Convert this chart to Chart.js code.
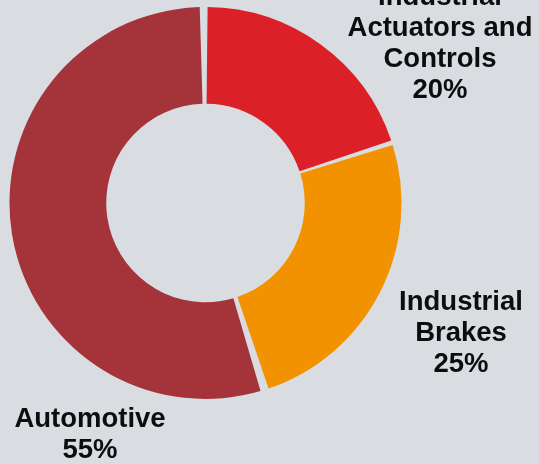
<!DOCTYPE html>
<html>
<head>
<meta charset="utf-8">
<script src="https://cdn.jsdelivr.net/npm/chart.js@4"></script>
<style>
html,body{margin:0;padding:0;background:#d9dde2}
#wrap{width:539px;height:464px;position:relative}
</style>
</head>
<body>
<div id="wrap"><canvas id="cSeg"></canvas></div>
<script>
// revenue split by segment
const segments=["Industrial Actuators and Controls","Industrial Brakes","Automotive"];
const shares=[20,25,55];
const segLines=[["Industrial","Actuators and","Controls"],["Industrial","Brakes"],["Automotive"]];
const segColors=["#dc2027","#f39200","#a5343a"];

// where each segment caption sits: centre x, baseline of first line
const captionPos=[{x:440,y:5},{x:461,y:310},{x:90,y:427}];

const segCaptions={
  id:"segCaptions",
  afterDraw(chart){
    const ctx=chart.ctx;
    ctx.save();
    ctx.font="bold 27.5px 'Liberation Sans', Arial, sans-serif";
    ctx.fillStyle="#0d0d0d";
    ctx.textAlign="center";
    ctx.textBaseline="alphabetic";
    segLines.forEach((lines,i)=>{
      const p=captionPos[i];
      const all=[...lines,shares[i]+"%"];
      all.forEach((t,j)=>ctx.fillText(t,p.x,p.y+j*31));
    });
    ctx.restore();
  }
};

new Chart(document.getElementById("cSeg"),{
  type:"doughnut",
  data:{labels:segments,datasets:[{data:shares,backgroundColor:segColors,borderWidth:0,spacing:5}]},
  options:{
    responsive:true,maintainAspectRatio:false,animation:false,
    cutout:"50%",
    layout:{padding:{left:9,top:7,right:137,bottom:65}},
    plugins:{legend:{display:false},tooltip:{enabled:false}}
  },
  plugins:[segCaptions]
});
</script>
</body>
</html>
